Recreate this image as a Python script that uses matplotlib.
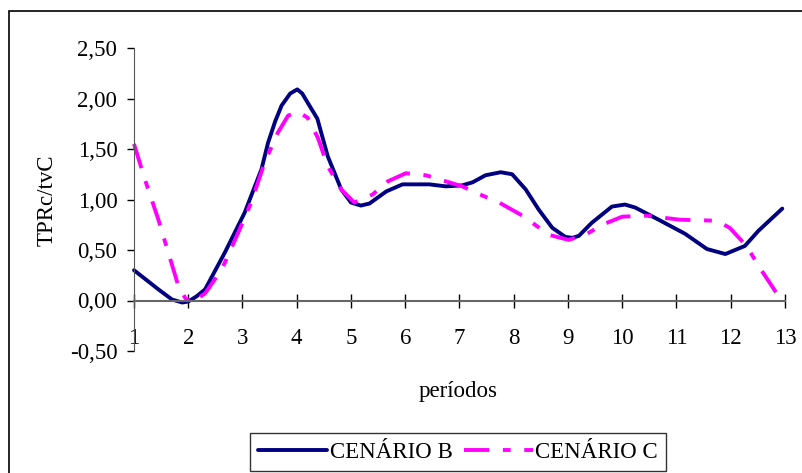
import matplotlib
matplotlib.use("Agg")
import matplotlib.pyplot as plt
from matplotlib.patches import Rectangle

plt.rcParams['font.family'] = ['Liberation Serif', 'DejaVu Serif']

# TPRc/tvC by period, two scenarios
periodo_b = [1.00, 1.45, 1.70, 1.89, 2.00, 2.15, 2.31, 2.67, 3.04, 3.35, 3.47, 3.60, 3.72,
             3.88, 4.01, 4.10, 4.20, 4.38, 4.57, 4.82, 5.00, 5.18, 5.34, 5.65, 5.95, 6.44,
             6.75, 7.05, 7.24, 7.48, 7.76, 7.97, 8.22, 8.46, 8.71, 8.95, 9.08, 9.20, 9.44,
             9.81, 10.05, 10.24, 10.67, 11.16, 11.56, 11.90, 12.26, 12.51, 12.95]
cenario_b = [0.30, 0.11, 0.01, -0.02, -0.01, 0.04, 0.11, 0.47, 0.87, 1.30, 1.56, 1.77, 1.93,
             2.05, 2.09, 2.05, 1.96, 1.80, 1.43, 1.10, 0.97, 0.94, 0.96, 1.08, 1.15, 1.15,
             1.13, 1.14, 1.17, 1.24, 1.27, 1.25, 1.10, 0.90, 0.72, 0.63, 0.62, 0.64, 0.77,
             0.93, 0.95, 0.92, 0.80, 0.66, 0.51, 0.46, 0.54, 0.69, 0.91]

periodo_c = [1.00, 1.20, 1.45, 1.82, 1.95, 2.06, 2.31, 2.62, 2.92, 3.16, 3.41, 3.65, 3.84,
             4.02, 4.20, 4.39, 4.57, 4.82, 5.06, 5.40, 5.68, 6.01, 6.38, 6.75, 7.05,
             7.42, 7.73, 8.16, 8.65, 9.01, 9.32, 9.63, 10.00, 10.45, 11.06, 11.74,
             11.98, 12.29, 12.54, 12.91, 13.00]
cenario_c = [1.55, 1.20, 0.80, 0.14, 0.02, -0.02, 0.07, 0.31, 0.67, 0.97, 1.37, 1.66, 1.83,
             1.87, 1.81, 1.61, 1.33, 1.10, 0.97, 1.05, 1.18, 1.26, 1.24, 1.18, 1.13,
             1.04, 0.97, 0.84, 0.65, 0.60, 0.65, 0.75, 0.83, 0.84, 0.80, 0.79,
             0.72, 0.54, 0.32, 0.02, 0.00]

periodos = list(range(1, 14))
y_ticks = [-0.5, 0.0, 0.5, 1.0, 1.5, 2.0, 2.5]

W, H = 803, 473
fig = plt.figure(figsize=(W / 100, H / 100), dpi=100)
fig.patch.set_facecolor('white')

# outer frame
fig.patches.append(Rectangle((9 / W, -0.1), 1.2, 1.1 - 11 / H, transform=fig.transFigure,
                             fill=False, edgecolor='black', linewidth=1.2))

ax = fig.add_axes([134 / W, 1 - 351 / H, (785 - 134) / W, (351 - 48) / H])

ax.plot(periodo_b, cenario_b, color='#000080', linewidth=2.8, clip_on=False,
        solid_capstyle='round', solid_joinstyle='round', label='CENÁRIO B')
ax.plot(periodo_c, cenario_c, color='#FF00FF', linewidth=2.8, clip_on=False,
        dashes=(6.5, 3.5, 2.0, 3.5), label='CENÁRIO C')

ax.set_xlim(1, 13)
ax.set_ylim(-0.5, 2.5)

for s in ['top', 'right']:
    ax.spines[s].set_visible(False)
ax.spines['left'].set_color('#555555')
ax.spines['bottom'].set_color('#666666')
ax.spines['bottom'].set_position(('data', 0))
ax.spines['bottom'].set_linewidth(1.5)

fs = 16.5
ax.set_xticks(periodos)
ax.set_xticklabels([str(p) for p in periodos])
ax.set_yticks(y_ticks)
ax.set_yticklabels([f"{v:.2f}".replace('.', ',') for v in y_ticks])
ax.tick_params(axis='x', direction='inout', length=9.5, width=1, pad=15, labelsize=fs)
ax.tick_params(axis='y', direction='out', length=5, width=1, pad=7, labelsize=fs)

fig.text(47 / W, 1 - 200 / H, 'TPRc/tvC', rotation=90, ha='center', va='center', fontsize=fs)
fig.text(458 / W, 1 - 392 / H, 'períodos', ha='center', va='center', fontsize=fs)

leg = fig.legend(loc='center', bbox_to_anchor=(458 / W, 1 - 452 / H), ncol=2,
                 fontsize=fs, frameon=True, fancybox=False, handlelength=3.0,
                 handletextpad=0.1, columnspacing=0.5, borderpad=0.35)
leg.get_frame().set_edgecolor('black')
leg.get_frame().set_linewidth(1.0)

fig.savefig('out.png', dpi=100)
